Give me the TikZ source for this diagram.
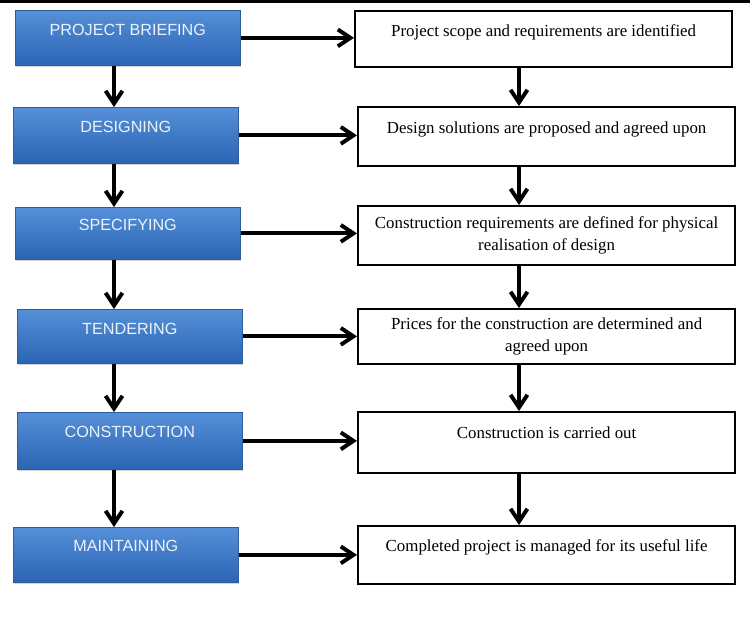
\documentclass[tikz,border=0pt]{standalone}
\usepackage{fontspec}
\setmainfont{Liberation Serif}
\setsansfont{Liberation Sans}
\usetikzlibrary{positioning,arrows.meta,shadows}

\definecolor{stagetop}{RGB}{86,144,216}
\definecolor{stagebot}{RGB}{42,100,180}
\definecolor{stageline}{RGB}{46,92,156}
\definecolor{stagetext}{RGB}{236,242,250}

\begin{document}
\begin{tikzpicture}[>=Stealth,
  stage/.style={rectangle,top color=stagetop,bottom color=stagebot,draw=stageline,line width=0.5pt,
    drop shadow={shadow xshift=0.8pt,shadow yshift=-1.2pt,opacity=0.35},
    minimum width=5.625cm,inner xsep=2pt,inner ysep=0pt,text height=0.625cm,
    text=stagetext,font=\sffamily\fontsize{11.5}{13.8}\selectfont,anchor=north west},
  outcome/.style={rectangle,draw,line width=1.6pt,minimum width=9.425cm,inner xsep=4pt,inner ysep=0pt,
    font=\fontsize{12}{15.4}\selectfont,anchor=north west},
  arr/.style={line width=2.8pt,-{Straight Barb[length=9pt,width=12pt]}}]
\useasboundingbox (0,0) rectangle (18.75,-15.4);
\draw[line width=1.9pt] (0,-0.03) -- (18.75,-0.03);

% stages
\node[stage,text depth=0.75cm] (brief) at (0.375,-0.25) {PROJECT BRIEFING};
\node[stage,text depth=0.775cm] (design) at (0.325,-2.675) {DESIGNING};
\node[stage,text height=0.575cm,text depth=0.725cm] (spec) at (0.375,-5.175) {SPECIFYING};
\node[stage,text depth=0.725cm] (tender) at (0.425,-7.725) {TENDERING};
\node[stage,text depth=0.8cm] (constr) at (0.425,-10.3) {CONSTRUCTION};
\node[stage,text height=0.6cm,text depth=0.775cm] (maint) at (0.325,-13.175) {MAINTAINING};

% outcomes
\node[outcome,text height=0.625cm,text depth=0.775cm] (scope) at (8.85,-0.25) {Project scope and requirements are identified};
\node[outcome,text height=0.65cm,text depth=0.825cm] (solve) at (8.925,-2.65) {Design solutions are proposed and agreed upon};
\node[outcome,align=center,minimum height=1.475cm] (needs) at (8.925,-5.125) {Construction requirements are defined for physical\\realisation of design};
\node[outcome,align=center,minimum height=1.375cm] (price) at (8.925,-7.7) {Prices for the construction are determined and\\agreed upon};
\node[outcome,text height=0.65cm,text depth=0.875cm] (build) at (8.925,-10.275) {Construction is carried out};
\node[outcome,text height=0.625cm,text depth=0.825cm] (manage) at (8.925,-13.125) {Completed project is managed for its useful life};

\coordinate (lx) at (2.85,0); \coordinate (rx) at (12.975,0);

% stage to outcome
\draw[arr] (brief.east) -- (brief.east -| scope.west);
\draw[arr] (design.east) -- (design.east -| solve.west);
\draw[arr] (spec.east) -- (spec.east -| needs.west);
\draw[arr] (tender.east) -- (tender.east -| price.west);
\draw[arr] (constr.east) -- (constr.east -| build.west);
\draw[arr] (maint.east) -- (maint.east -| manage.west);

% downward flow
\draw[arr] (brief.south -| lx) -- (design.north -| lx);
\draw[arr] (design.south -| lx) -- (spec.north -| lx);
\draw[arr] (spec.south -| lx) -- (tender.north -| lx);
\draw[arr] (tender.south -| lx) -- (constr.north -| lx);
\draw[arr] (constr.south -| lx) -- (maint.north -| lx);
\draw[arr] (scope.south -| rx) -- (solve.north -| rx);
\draw[arr] (solve.south -| rx) -- (needs.north -| rx);
\draw[arr] (needs.south -| rx) -- (price.north -| rx);
\draw[arr] (price.south -| rx) -- (build.north -| rx);
\draw[arr] (build.south -| rx) -- (manage.north -| rx);
\end{tikzpicture}
\end{document}
